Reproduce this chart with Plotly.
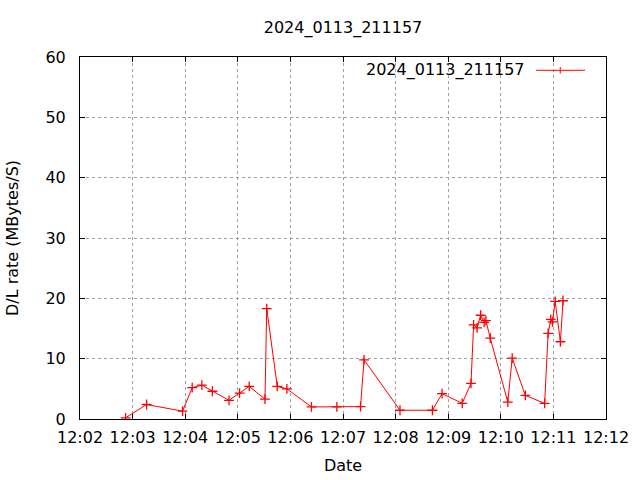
import plotly.graph_objects as go

day = "2024-01-13 "
times = [
    "12:02:52", "12:03:16", "12:03:57", "12:04:08", "12:04:19", "12:04:31",
    "12:04:50", "12:05:02", "12:05:13", "12:05:31", "12:05:33", "12:05:45",
    "12:05:56", "12:06:24", "12:06:53", "12:07:20", "12:07:24", "12:08:05",
    "12:08:42", "12:08:53", "12:09:16", "12:09:26", "12:09:29", "12:09:33",
    "12:09:37", "12:09:41", "12:09:43", "12:09:48", "12:10:08", "12:10:13",
    "12:10:28", "12:10:50", "12:10:54", "12:10:57", "12:10:59", "12:11:02",
    "12:11:08", "12:11:11",
]
rates = [
    0.2, 2.4, 1.3, 5.2, 5.6, 4.6,
    3.1, 4.3, 5.4, 3.3, 18.3, 5.4,
    5.0, 2.0, 2.0, 2.05, 9.8, 1.45,
    1.45, 4.2, 2.6, 5.9, 15.6, 15.1,
    17.2, 16.0, 16.3, 13.4, 2.8, 10.1,
    3.9, 2.6, 14.2, 16.5, 16.1, 19.5,
    12.8, 19.6,
]
series_name = "2024_0113_211157"
x_tick_labels = ["12:02", "12:03", "12:04", "12:05", "12:06", "12:07",
                 "12:08", "12:09", "12:10", "12:11", "12:12"]
y_ticks = [0, 10, 20, 30, 40, 50, 60]
y_title = "D/L rate (MBytes/S)"

xs = [day + t for t in times]
tickvals = [day + t + ":00" for t in x_tick_labels]

FONT = "DejaVu Sans"
W, H = 640, 480
L, R, T, B = 80, 34, 57, 61
PW = W - L - R
fig = go.Figure()
fig.add_trace(go.Scatter(
    x=xs, y=rates, mode="lines+markers", name=series_name,
    line=dict(color="#ff0000", width=1),
    marker=dict(symbol="cross-thin-open", size=7,
                line=dict(color="#ff0000", width=1.3)),
    showlegend=False,
))

# legend drawn manually (gnuplot style: text left of sample)
ly = (419 - 70.3) / 362
fig.add_annotation(x=0.849, y=ly, xref="paper", yref="paper", text=series_name,
                   showarrow=False, xanchor="right", yanchor="middle",
                   font=dict(family=FONT, size=16, color="black"))
fig.add_shape(type="line", xref="paper", yref="paper", x0=0.867, x1=0.960,
              y0=ly, y1=ly, line=dict(color="#ff0000", width=1))
fig.add_shape(type="line", xref="paper", yref="paper", x0=0.913, x1=0.913,
              y0=ly - 0.009, y1=ly + 0.009, line=dict(color="#ff0000", width=1))

# y-axis title
fig.add_annotation(x=(12 - L) / PW, y=0.5, xref="paper", yref="paper", text=y_title,
                   showarrow=False, xanchor="center", yanchor="middle", textangle=-90,
                   font=dict(family=FONT, size=16, color="black"))

axis_common = dict(
    showline=True, linecolor="black", linewidth=1, mirror="ticks",
    ticks="inside", ticklen=5, tickcolor="black",
    showgrid=True, gridcolor="#a0a0a0", griddash="dot", gridwidth=1,
    zeroline=False, automargin=False,
    tickfont=dict(family=FONT, size=16, color="black"),
)
fig.update_xaxes(
    type="date", range=[day + "12:02:00", day + "12:12:00"],
    tickvals=tickvals, ticktext=x_tick_labels,
    title=dict(text="Date", font=dict(family=FONT, size=16, color="black"), standoff=13),
    ticklabelstandoff=4,
    **axis_common,
)
fig.update_yaxes(
    range=[0, 60], tickvals=y_ticks,
    ticklabelstandoff=10,
    **axis_common,
)
fig.update_layout(
    width=W, height=H,
    margin=dict(l=L, r=R, t=T, b=B, autoexpand=False),
    paper_bgcolor="white", plot_bgcolor="white",
    title=dict(text=series_name, x=0.5, xref="paper", y=1 - 27 / H, yref="container",
               xanchor="center", yanchor="middle",
               font=dict(family=FONT, size=16, color="black")),
    font=dict(family=FONT, size=16, color="black"),
)
fig.write_html("out.html", config={"displayModeBar": False},
               post_script="document.body.style.margin='0';document.body.style.overflow='hidden';")
